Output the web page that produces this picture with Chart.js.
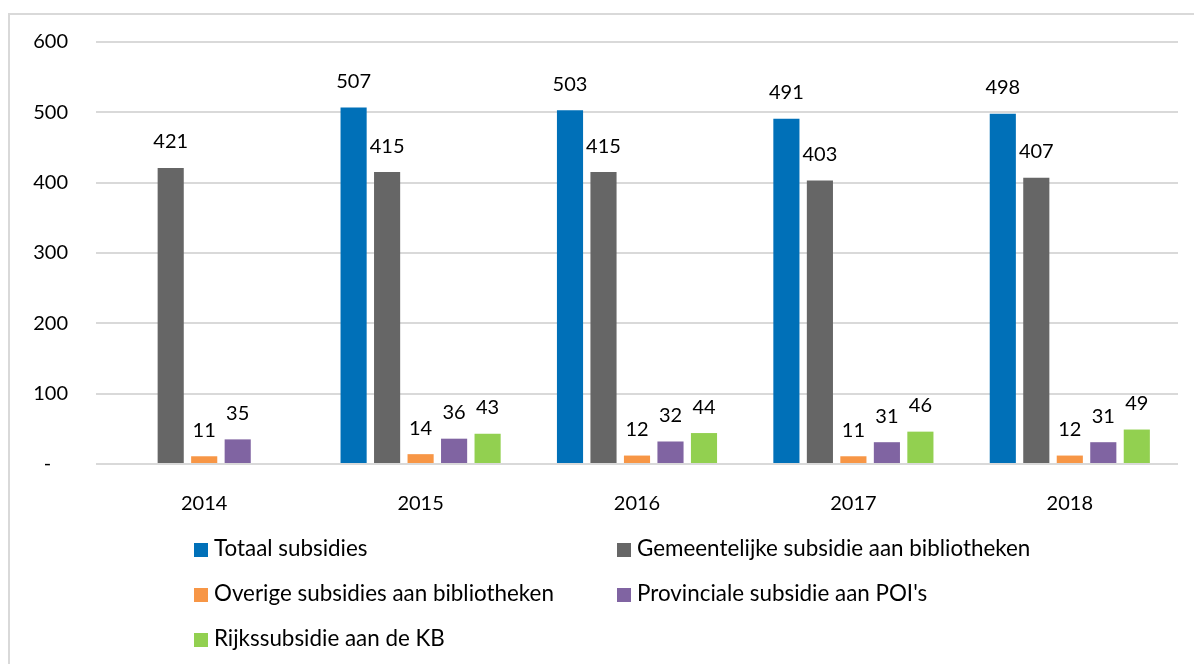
<!DOCTYPE html>
<html>
<head>
<meta charset="utf-8">
<script src="https://cdn.jsdelivr.net/npm/chart.js@4"></script>
<style>
    body { margin: 0; background: #fff; font-family: Lato, "Open Sans", sans-serif; }
    #frame { position: absolute; left: 8px; top: 13px; width: 1300px; height: 700px; border: 2px solid #d9d9d9; box-sizing: border-box; }
    #wrap { position: absolute; left: 0; top: 0; width: 1194px; height: 520px; }
    #legend { position: absolute; left: 0; top: 0; width: 1194px; height: 664px; pointer-events: none; }
    .item { position: absolute; font-size: 22.4px; color: #000; line-height: 24px; white-space: nowrap; }
    .box { display: inline-block; width: 14px; height: 14px; margin-right: 6px; vertical-align: -1px; }
</style>
</head>
<body>
<div id="frame"></div>
<div id="wrap"><canvas id="subsidieChart" width="1194" height="520"></canvas></div>
<div id="legend"></div>
<script>
// data (x mln euro)
const years = ['2014', '2015', '2016', '2017', '2018'];
const seriesNames = [
    'Totaal subsidies',
    'Gemeentelijke subsidie aan bibliotheken',
    'Overige subsidies aan bibliotheken',
    "Provinciale subsidie aan POI's",
    'Rijkssubsidie aan de KB'
];
const totaal = [null, 507, 503, 491, 498];
const gemeentelijk = [421, 415, 415, 403, 407];
const overige = [11, 14, 12, 11, 12];
const provinciaal = [35, 36, 32, 31, 31];
const rijk = [null, 43, 44, 46, 49];
const yTicks = [0, 100, 200, 300, 400, 500, 600];

const colors = ['#0070b8', '#666666', '#f79646', '#8064a2', '#92d050'];
const allSeries = [totaal, gemeentelijk, overige, provinciaal, rijk];

const fontFamily = 'Lato, "Open Sans", sans-serif';

// value labels above the bars
const valueLabels = {
    id: 'valueLabels',
    afterDatasetsDraw(chart) {
        const ctx = chart.ctx;
        ctx.save();
        ctx.font = '20px ' + fontFamily;
        ctx.fillStyle = '#000';
        ctx.textAlign = 'center';
        ctx.textBaseline = 'middle';
        chart.data.datasets.forEach((ds, i) => {
            const meta = chart.getDatasetMeta(i);
            meta.data.forEach((bar, j) => {
                const v = ds.data[j];
                if (v === null || v === undefined) return;
                ctx.fillText(String(v), bar.x, bar.y - 26);
            });
        });
        ctx.restore();
    }
};

const ctx = document.getElementById('subsidieChart').getContext('2d');
const chart = new Chart(ctx, {
    type: 'bar',
    data: {
        labels: years,
        datasets: allSeries.map((d, i) => ({
            label: seriesNames[i],
            data: d,
            backgroundColor: colors[i],
            categoryPercentage: 0.774,
            barPercentage: 0.78
        }))
    },
    options: {
        responsive: false,
        animation: false,
        layout: { padding: { left: 0, top: 42, right: 16, bottom: 0 } },
        plugins: {
            legend: { display: false },
            tooltip: { enabled: false }
        },
        scales: {
            x: {
                grid: { display: false },
                border: { display: false },
                ticks: { color: '#000', font: { family: fontFamily, size: 20 }, padding: 20 },
                afterFit: scale => { scale.height = 56; }
            },
            y: {
                min: 0,
                max: 600,
                afterBuildTicks: scale => { scale.ticks = yTicks.map(v => ({ value: v })); },
                grid: { color: '#d9d9d9', lineWidth: 2, drawTicks: false },
                border: { display: false },
                ticks: {
                    color: '#000',
                    font: { family: fontFamily, size: 20 },
                    padding: 28,
                    callback: v => v === 0 ? '-\u2007 ' : String(v)
                },
                afterFit: scale => { scale.width = 96; }
            }
        }
    },
    plugins: [valueLabels]
});

// legend in two columns, like the original
const legendPos = [
    [194, 548], [617, 548],
    [194, 593], [617, 593],
    [194, 638]
];
const legend = document.getElementById('legend');
chart.data.datasets.forEach((ds, i) => {
    const el = document.createElement('div');
    el.className = 'item';
    el.style.left = legendPos[i][0] + 'px';
    el.style.top = (legendPos[i][1] - 12) + 'px';
    el.innerHTML = '<span class="box" style="background:' + ds.backgroundColor + '"></span>' + ds.label;
    legend.appendChild(el);
});
</script>
</body>
</html>
